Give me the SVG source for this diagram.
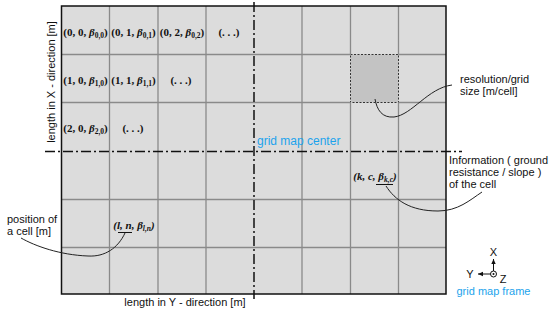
<svg xmlns="http://www.w3.org/2000/svg" width="550" height="315" viewBox="0 0 550 315">
<defs>
<style>
.grid{stroke:#8a8a8a;stroke-width:1.3;fill:none}
.dd{stroke:#111;stroke-width:1.5;stroke-dasharray:10 3 2 3;fill:none}
.lbl{font-family:"Liberation Sans",Arial,sans-serif;font-size:11px;fill:#111}
.blue{font-family:"Liberation Sans",Arial,sans-serif;font-size:11px;fill:#1ca3ec}
.m{font-family:"Liberation Serif","Times New Roman",serif;font-size:11px;font-weight:bold;fill:#111;text-anchor:middle}
.s{font-size:7.5px}
.lead{stroke:#222;stroke-width:1;fill:none}
</style>
<marker id="ah" markerWidth="6" markerHeight="6" refX="5" refY="3" orient="auto" markerUnits="userSpaceOnUse">
<path d="M0,0.8 L5,3 L0,5.2 Z" fill="#111"/>
</marker>
</defs>
<rect width="550" height="315" fill="#fff"/>
<g id="grid-map">
<rect x="61.5" y="6" width="384.5" height="288" fill="#dcdcdc"/>
<rect id="grid-cell-resolution" x="350.5" y="54.5" width="48" height="48" fill="#c3c3c3" stroke="#333" stroke-width="1" stroke-dasharray="2 1.5"/>
<path class="grid" d="M109.5,6V294M158,6V294M206,6V294M302,6V294M350.5,6V54.5M350.5,102.5V294M398.5,6V54.5M398.5,102.5V294M61.5,54.5H350.5M398.5,54.5H446M61.5,102.5H350.5M398.5,102.5H446M61.5,199.5H446M61.5,247.5H446"/>
<path d="M61.5,6H446V294H61.5Z" fill="none" stroke="#111" stroke-width="1.5"/>
<path class="dd" d="M254,2V299"/>
<path class="dd" d="M45,151.5H462"/>
</g>
<g id="cell-labels">
<text class="m" x="85.5" y="36">(0, 0, <tspan font-style="italic">β</tspan><tspan class="s" dy="2">0,0</tspan><tspan dy="-2">)</tspan></text>
<text class="m" x="133.5" y="36">(0, 1, <tspan font-style="italic">β</tspan><tspan class="s" dy="2">0,1</tspan><tspan dy="-2">)</tspan></text>
<text class="m" x="182" y="36">(0, 2, <tspan font-style="italic">β</tspan><tspan class="s" dy="2">0,2</tspan><tspan dy="-2">)</tspan></text>
<text class="m" x="229" y="36">(. . .)</text>
<text class="m" x="85.5" y="84">(1, 0, <tspan font-style="italic">β</tspan><tspan class="s" dy="2">1,0</tspan><tspan dy="-2">)</tspan></text>
<text class="m" x="133.5" y="84">(1, 1, <tspan font-style="italic">β</tspan><tspan class="s" dy="2">1,1</tspan><tspan dy="-2">)</tspan></text>
<text class="m" x="181" y="84">(. . .)</text>
<text class="m" x="85.5" y="132">(2, 0, <tspan font-style="italic">β</tspan><tspan class="s" dy="2">2,0</tspan><tspan dy="-2">)</tspan></text>
<text class="m" x="133" y="132">(. . .)</text>
</g>
<g id="cell-ln">
<text class="m" x="134" y="229" font-style="italic">(l, n, β<tspan class="s" dy="2">l,n</tspan><tspan dy="-2">)</tspan></text>
<path d="M118,232.5H132" stroke="#111" stroke-width="1"/>
</g>
<g id="cell-kc">
<text class="m" x="375" y="180" font-style="italic">(k, c, β<tspan class="s" dy="2">k,c</tspan><tspan dy="-2">)</tspan></text>
<path d="M376,184.5H393" stroke="#111" stroke-width="1"/>
</g>
<g id="axis-labels">
<text class="lbl" transform="translate(55,82) rotate(-90)" text-anchor="middle">length in X - direction [m]</text>
<text class="lbl" x="185" y="306" text-anchor="middle">length in Y - direction [m]</text>
</g>
<g id="center-label">
<text class="blue" x="257" y="145" style="font-size:12px">grid map center</text>
</g>
<g id="resolution-note">
<text class="lbl" x="460" y="83">resolution/grid</text>
<text class="lbl" x="460" y="95">size [m/cell]</text>
</g>
<g id="information-note">
<text class="lbl" x="449" y="164">Information ( ground</text>
<text class="lbl" x="449" y="176">resistance / slope )</text>
<text class="lbl" x="449" y="188">of the cell</text>
</g>
<g id="position-note">
<text class="lbl" x="7" y="223">position of</text>
<text class="lbl" x="7" y="235">a cell [m]</text>
</g>
<g id="frame">
<circle cx="493.5" cy="274" r="3" fill="none" stroke="#111" stroke-width="1"/>
<circle cx="493.5" cy="274" r="1" fill="#111"/>
<text class="lbl" x="493.5" y="256" text-anchor="middle">X</text>
<text class="lbl" x="470" y="278" text-anchor="middle">Y</text>
<text class="lbl" x="503" y="283" text-anchor="middle">Z</text>
<text class="blue" x="493.5" y="295" text-anchor="middle">grid map frame</text>
</g>
<g id="connectors">
<path class="lead" d="M375,99 C377,110 382,118 394,117 C412,115 428,88 452,85"/>
<path class="lead" d="M386,186 C395,200 410,211 438,211 C458,211 470,200 482,192"/>
<path class="lead" d="M125,233 C118,248 105,257 88,256 C60,255 35,246 21,238"/>
<path d="M493.5,271V259" stroke="#111" stroke-width="1" marker-end="url(#ah)"/>
<path d="M490.5,274H478" stroke="#111" stroke-width="1" marker-end="url(#ah)"/>
</g>
</svg>
